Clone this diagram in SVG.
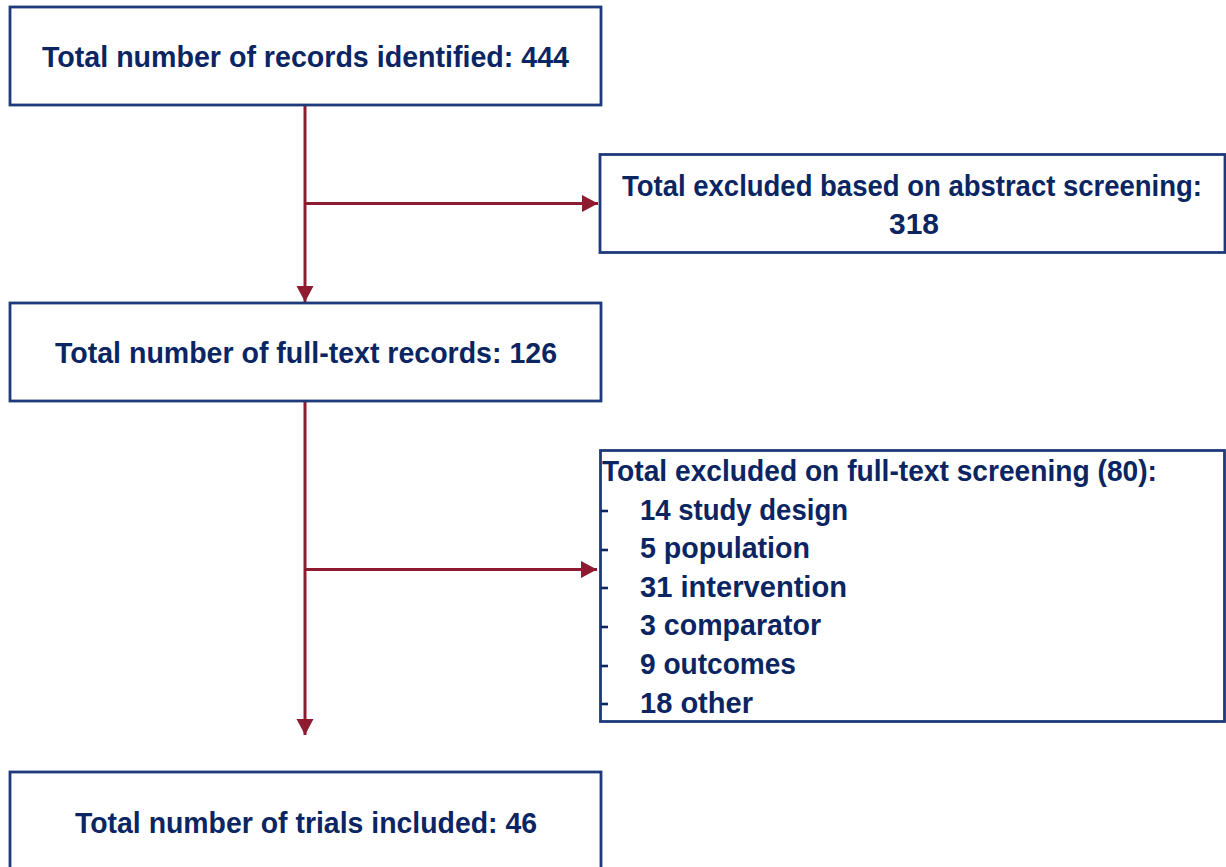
<svg xmlns="http://www.w3.org/2000/svg" width="1226" height="867" viewBox="0 0 1226 867">
  <style>
    .box { fill: #ffffff; stroke: #1f3a7a; stroke-width: 2.8; }
    .t { font-family: "Liberation Sans", Arial, sans-serif; font-weight: bold; font-size: 29px; fill: #0b2563; }
    .c { text-anchor: middle; }
    .conn { stroke: #8e1b30; stroke-width: 3; fill: none; }
    .dash { stroke: #0b2563; stroke-width: 2.6; }
  </style>
  <defs>
    <marker id="arr" markerUnits="userSpaceOnUse" markerWidth="18" markerHeight="18" refX="16" refY="8.5" orient="auto">
      <path d="M0,0 L16,8.5 L0,17 Z" fill="#8e1b30"/>
    </marker>
  </defs>
  <rect width="1226" height="867" fill="#ffffff"/>

  <g id="connectors">
    <line class="conn" x1="305" y1="105" x2="305" y2="302" marker-end="url(#arr)"/>
    <line class="conn" x1="305" y1="203.5" x2="598" y2="203.5" marker-end="url(#arr)"/>
    <line class="conn" x1="305" y1="401" x2="305" y2="735" marker-end="url(#arr)"/>
    <line class="conn" x1="305" y1="569.5" x2="597" y2="569.5" marker-end="url(#arr)"/>
  </g>

  <g id="node-identified">
    <rect class="box" x="10" y="7" width="591" height="98"/>
    <text class="t c" x="305.5" y="67" textLength="527" lengthAdjust="spacingAndGlyphs">Total number of records identified: 444</text>
  </g>

  <g id="node-excluded-abstract">
    <rect class="box" x="600" y="154.5" width="625" height="98"/>
    <text class="t c" x="912" y="196" font-size="28" textLength="580" lengthAdjust="spacingAndGlyphs">Total excluded based on abstract screening:</text>
    <text class="t c" x="914" y="234" textLength="50" lengthAdjust="spacingAndGlyphs">318</text>
  </g>

  <g id="node-fulltext">
    <rect class="box" x="10" y="303" width="591" height="98"/>
    <text class="t c" x="306" y="363" textLength="502" lengthAdjust="spacingAndGlyphs">Total number of full-text records: 126</text>
  </g>

  <g id="node-excluded-fulltext">
    <rect class="box" x="600.5" y="450.5" width="624" height="271"/>
    <text class="t" x="602" y="481" textLength="555" lengthAdjust="spacingAndGlyphs">Total excluded on full-text screening (80):</text>
    <line class="dash" x1="601" y1="511" x2="608" y2="511"/>
    <line class="dash" x1="601" y1="550" x2="608" y2="550"/>
    <line class="dash" x1="601" y1="588" x2="608" y2="588"/>
    <line class="dash" x1="601" y1="627" x2="608" y2="627"/>
    <line class="dash" x1="601" y1="666" x2="608" y2="666"/>
    <line class="dash" x1="601" y1="704" x2="608" y2="704"/>
    <text class="t" x="640" y="520" textLength="208" lengthAdjust="spacingAndGlyphs">14 study design</text>
    <text class="t" x="640" y="558" textLength="170" lengthAdjust="spacingAndGlyphs">5 population</text>
    <text class="t" x="640" y="597" textLength="207" lengthAdjust="spacingAndGlyphs">31 intervention</text>
    <text class="t" x="640" y="635" textLength="181" lengthAdjust="spacingAndGlyphs">3 comparator</text>
    <text class="t" x="640" y="674" textLength="156" lengthAdjust="spacingAndGlyphs">9 outcomes</text>
    <text class="t" x="640" y="713" textLength="113" lengthAdjust="spacingAndGlyphs">18 other</text>
  </g>

  <g id="node-included">
    <rect class="box" x="10" y="772" width="591" height="110"/>
    <text class="t c" x="306" y="833" textLength="462" lengthAdjust="spacingAndGlyphs">Total number of trials included: 46</text>
  </g>
</svg>
